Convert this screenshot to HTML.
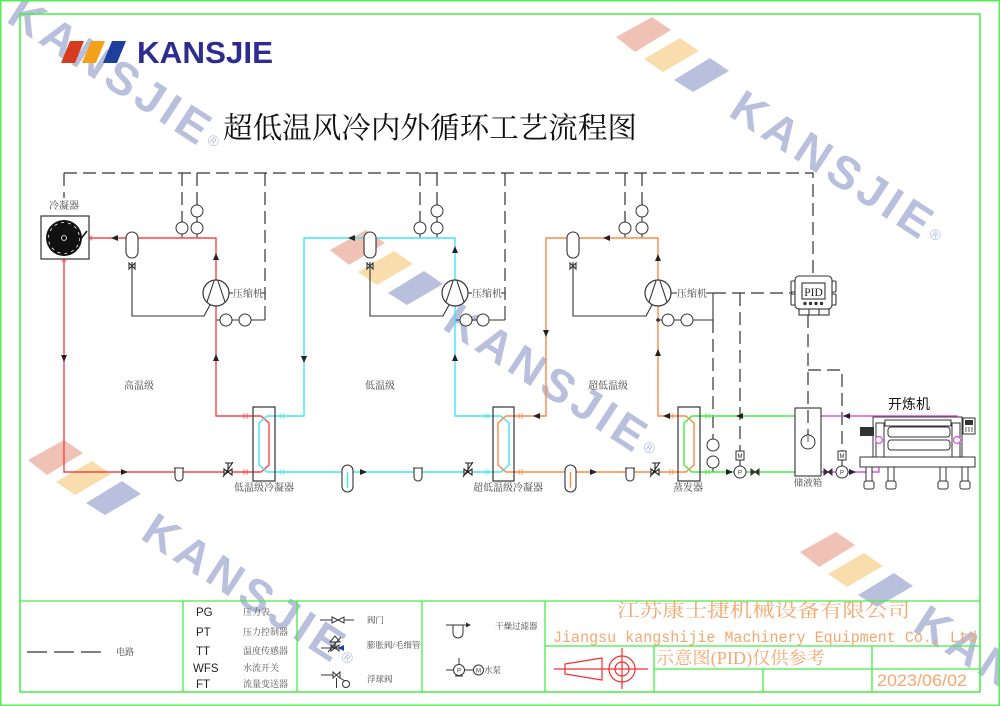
<!DOCTYPE html>
<html><head><meta charset="utf-8"><style>
html,body{margin:0;padding:0;background:#fff;width:1000px;height:706px;overflow:hidden}
#wrap{width:1000px;height:706px;overflow:hidden;position:relative}
svg{display:block;overflow:hidden}
text{font-family:"Liberation Serif","Noto Serif CJK SC",serif}
.s{font-family:"Liberation Sans","Noto Sans CJK SC",sans-serif}
</style></head><body><div id="wrap">
<svg width="1000" height="706" viewBox="0 0 1000 706" xmlns="http://www.w3.org/2000/svg">
<defs><clipPath id="pg"><rect x="0" y="0" width="1000" height="706"/></clipPath></defs>
<g clip-path="url(#pg)">
<rect width="1000" height="706" fill="#fff"/>

<!-- watermarks -->
<g transform="translate(0,0)">
<polygon points="616,37 652,17 671,30 635,52" fill="#f0c2b6"/>
<polygon points="644,59 680,38 699,51 663,72" fill="#f9ddac"/>
<polygon points="674,80 710,58 729,71 693,92" fill="#b8c0dd"/>
<text class="s" transform="translate(727,115) rotate(33)" font-weight="bold" font-size="46" letter-spacing="5" fill="#b8c0dd">KANSJIE<tspan font-size="15" font-weight="normal" dy="-8">®</tspan></text>
</g>
<g transform="translate(-286,213)">
<polygon points="616,37 652,17 671,30 635,52" fill="#f0c2b6"/>
<polygon points="644,59 680,38 699,51 663,72" fill="#f9ddac"/>
<polygon points="674,80 710,58 729,71 693,92" fill="#b8c0dd"/>
<text class="s" transform="translate(727,115) rotate(33)" font-weight="bold" font-size="46" letter-spacing="5" fill="#b8c0dd">KANSJIE<tspan font-size="15" font-weight="normal" dy="-8">®</tspan></text>
</g>
<g transform="translate(-588,423)">
<polygon points="616,37 652,17 671,30 635,52" fill="#f0c2b6"/>
<polygon points="644,59 680,38 699,51 663,72" fill="#f9ddac"/>
<polygon points="674,80 710,58 729,71 693,92" fill="#b8c0dd"/>
<text class="s" transform="translate(727,115) rotate(33)" font-weight="bold" font-size="46" letter-spacing="5" fill="#b8c0dd">KANSJIE<tspan font-size="15" font-weight="normal" dy="-8">®</tspan></text>
</g>
<g transform="translate(184,515)">
<polygon points="616,37 652,17 671,30 635,52" fill="#f0c2b6"/>
<polygon points="644,59 680,38 699,51 663,72" fill="#f9ddac"/>
<polygon points="674,80 710,58 729,71 693,92" fill="#b8c0dd"/>
<text class="s" transform="translate(727,115) rotate(33)" font-weight="bold" font-size="46" letter-spacing="5" fill="#b8c0dd">KANS</text>
</g>
<g transform="translate(-722,-94)">
<text class="s" transform="translate(727,115) rotate(33)" font-weight="bold" font-size="46" letter-spacing="5" fill="#b8c0dd">KANSJIE<tspan font-size="15" font-weight="normal" dy="-8">®</tspan></text>
</g>

<!-- borders -->
<rect x="0.75" y="0.75" width="998.5" height="704.5" fill="none" stroke="#55ee55" stroke-width="1.5"/>
<rect x="20" y="14" width="960" height="678" fill="none" stroke="#44ee44" stroke-width="1.5"/>

<!-- logo -->
<polygon points="70,41 84,41 75,63 61,63" fill="#d63c1c"/>
<polygon points="91,41 105,41 96,63 82,63" fill="#f5a21a"/>
<polygon points="112,41 126,41 117,63 103,63" fill="#1f3f9e"/>
<text class="s" x="137" y="63" font-size="31" font-weight="bold" fill="#2d2d8f" textLength="136" lengthAdjust="spacingAndGlyphs">KANSJIE</text>

<!-- title -->
<text x="223" y="138" font-size="29.6" fill="#111" textLength="414" lengthAdjust="spacingAndGlyphs">超低温风冷内外循环工艺流程图</text>

<!-- dashed control lines -->
<g fill="none" stroke="#333" stroke-width="1.2" stroke-dasharray="13 6">
<path d="M64,173 H813 V275"/>
<path d="M64,173 V198"/>
<path d="M182,173 V222"/><path d="M197,173 V205"/><path d="M265,173 V307"/>
<path d="M420,173 V222"/><path d="M437,173 V205"/><path d="M505,173 V307"/>
<path d="M625,173 V222"/><path d="M642,173 V205"/>
<path d="M713,293 H792"/>
<path d="M713,320 V439"/>
<path d="M740,293 V451"/>
<path d="M808,315 V435"/>
<path d="M808,370 H842 V451"/>
</g>

<!-- solid black lines -->
<g fill="none" stroke="#333" stroke-width="1.1">
<path d="M265,307 V320"/><path d="M505,307 V320"/><path d="M713,293 V320"/>
<path d="M182,234 V238"/><path d="M197,234 V238"/><path d="M197,217 V222"/>
<path d="M420,234 V238"/><path d="M437,234 V238"/><path d="M437,217 V222"/>
<path d="M625,234 V238"/><path d="M642,234 V238"/><path d="M642,217 V222"/>
<path d="M216,320 H265"/><path d="M455,320 H505"/><path d="M658,320 H713"/>
<path d="M132,262 V316 H204 L210,305"/>
<path d="M370,262 V316 H443 L449,305"/>
<path d="M573,262 V316 H646 L652,305"/>
<path d="M229,293 H233"/><path d="M261,293 H265"/>
<path d="M468,293 H472"/><path d="M501,293 H505"/>
<path d="M671,293 H677"/><path d="M706,293 H713"/>
<path d="M713,468 V472"/>
<path d="M740,460 V466"/><path d="M842,460 V466"/>
</g>

<!-- colored pipes -->
<g fill="none" stroke-width="1.4">
<path d="M89,238 H216 V416 H247" stroke="#ff4444"/>
<path d="M64,259 V472 H247" stroke="#ff4444"/>
<path d="M247,416 H261 L269,423 V465 L261,472 H247" stroke="#ff4444"/>
<path d="M282,416 H267 L259,423 V465 L267,472 H282" stroke="#44e4f4"/>
<path d="M282,416 H304 V238 H455 V416 H487" stroke="#44e4f4"/>
<path d="M282,472 H487" stroke="#44e4f4"/>
<path d="M487,416 H501 L509,423 V465 L501,472 H487" stroke="#44e4f4"/>
<path d="M520,416 H506 L498,423 V465 L506,472 H520" stroke="#ff8844"/>
<path d="M520,416 H546 V238 H658 V416 H672" stroke="#ff8844"/>
<path d="M520,472 H672" stroke="#ff8844"/>
<path d="M672,416 H686 L694,423 V465 L686,472 H672" stroke="#ff8844"/>
<path d="M706,416 H692 L684,423 V465 L692,472 H706" stroke="#44ee44"/>
<path d="M706,416 H795" stroke="#44ee44"/>
<path d="M706,472 H795" stroke="#44ee44"/>
<path d="M821,416 H957 V436" stroke="#e050e0"/>
<path d="M821,472 H879 V444" stroke="#e050e0"/>
</g>

<!-- flange ticks -->
<g stroke-width="1" fill="none">
<g stroke="#ff4444"><path d="M244,413.5 v5 M247,413.5 v5 M244,469.5 v5 M247,469.5 v5 M91,235.5 v5 M61.5,261 h5"/></g>
<g stroke="#44e4f4"><path d="M281,413.5 v5 M284,413.5 v5 M281,469.5 v5 M284,469.5 v5 M485,413.5 v5 M488,413.5 v5 M485,469.5 v5 M488,469.5 v5"/></g>
<g stroke="#ff8844"><path d="M519,413.5 v5 M522,413.5 v5 M519,469.5 v5 M522,469.5 v5 M670,413.5 v5 M673,413.5 v5 M670,469.5 v5 M673,469.5 v5"/></g>
<g stroke="#44ee44"><path d="M706,413.5 v5 M709,413.5 v5 M706,469.5 v5 M709,469.5 v5"/></g>
</g>

<!-- arrows -->
<g fill="#222">
<polygon points="111,238 118,235 118,241"/>
<polygon points="216,253 213,260 219,260"/>
<polygon points="216,354 213,361 219,361"/>
<polygon points="64,362 61,355 67,355"/>
<polygon points="128,472 121,469 121,475"/>
<polygon points="348,238 355,235 355,241"/>
<polygon points="455,246 452,253 458,253"/>
<polygon points="455,354 452,361 458,361"/>
<polygon points="304,363 301,356 307,356"/>
<polygon points="367,472 360,469 360,475"/>
<polygon points="603,238 610,235 610,241"/>
<polygon points="658,254 655,261 661,261"/>
<polygon points="658,349 655,356 661,356"/>
<polygon points="546,337 543,330 549,330"/>
<polygon points="533,416 540,413 540,419"/>
<polygon points="597,472 590,469 590,475"/>
<polygon points="663,416 670,413 670,419"/>
<polygon points="736,416 743,413 743,419"/>
<polygon points="733,472 726,469 726,475"/>
<polygon points="843,416 850,413 850,419"/>
<polygon points="856,472 849,469 849,475"/>
</g>

<!-- condenser -->
<rect x="41" y="216" width="48" height="43" fill="#fff" stroke="#333" stroke-width="1.2"/>
<circle cx="64" cy="238" r="18" fill="#111"/>
<circle cx="64" cy="238" r="15.5" fill="none" stroke="#fff" stroke-width="0.8" stroke-dasharray="3 4"/>
<circle cx="64" cy="238" r="2.5" fill="none" stroke="#fff" stroke-width="0.8"/>
<path d="M80,240 L87,231" stroke="#111" stroke-width="1.5"/>
<text x="64" y="209" font-size="10" fill="#444" text-anchor="middle">冷凝器</text>

<!-- receivers top -->
<g fill="#fff" stroke="#333" stroke-width="1.1">
<rect x="126" y="232" width="12" height="26" rx="6"/>
<rect x="364" y="232" width="12" height="26" rx="6"/>
<rect x="567" y="232" width="12" height="26" rx="6"/>
<path d="M129,263 L135,269 L135,263 L129,269 Z"/>
<path d="M367,263 L373,269 L373,263 L367,269 Z"/>
<path d="M570,263 L576,269 L576,263 L570,269 Z"/>
</g>

<!-- bottom receivers -->
<rect x="342" y="465" width="11" height="27" rx="5.5" fill="#fff" stroke="#333" stroke-width="1.1"/>
<path d="M347.5,472 V488" stroke="#44e4f4" stroke-width="1.4"/>
<rect x="565" y="465" width="11" height="27" rx="5.5" fill="#fff" stroke="#333" stroke-width="1.1"/>
<path d="M570.5,472 V488" stroke="#ff8844" stroke-width="1.4"/>

<!-- filters -->
<g fill="#fff" stroke="#333" stroke-width="1.1">
<path d="M174,468 H184 M175,468 V477 A4,4 0 0 0 183,477 V468"/>
<path d="M413,468 H423 M414,468 V477 A4,4 0 0 0 422,477 V468"/>
<path d="M625,468 H635 M626,468 V477 A4,4 0 0 0 634,477 V468"/>
</g>

<!-- expansion valves -->
<g fill="#fff" stroke="#222" stroke-width="1.1">
<path d="M224,469 L232,475 L232,469 L224,475 Z"/><path d="M228,472 V463 M225,463 H232 M223,477 L233,462" fill="none"/>
<path d="M464,469 L472,475 L472,469 L464,475 Z"/><path d="M468,472 V463 M465,463 H472 M463,477 L473,462" fill="none"/>
<path d="M651,469 L659,475 L659,469 L651,475 Z"/><path d="M655,472 V463 M652,463 H659 M650,477 L660,462" fill="none"/>
</g>

<!-- exchangers -->
<g fill="none" stroke="#333" stroke-width="1.2">
<rect x="253" y="407" width="22" height="74"/>
<rect x="493" y="407" width="21" height="74"/>
<rect x="678" y="407" width="22" height="74"/>
</g>
<g font-size="10" fill="#444" text-anchor="middle">
<text x="264" y="491">低温级冷凝器</text>
<text x="508" y="491">超低温级冷凝器</text>
<text x="688" y="491">蒸发器</text>
<text x="139" y="389">高温级</text>
<text x="380" y="389">低温级</text>
<text x="608" y="389">超低温级</text>
</g>

<!-- compressors -->
<g fill="#fff" stroke="#333" stroke-width="1.2">
<circle cx="216" cy="293" r="13"/>
<circle cx="455" cy="293" r="13"/>
<circle cx="658" cy="293" r="13"/>
</g>
<g fill="none" stroke="#333" stroke-width="1.1">
<path d="M207,302 L214,281 M218,281 L225,302"/>
<path d="M446,302 L453,281 M457,281 L464,302"/>
<path d="M649,302 L656,281 M660,281 L667,302"/>
</g>
<g font-size="10" fill="#444">
<text x="233" y="297">压缩机</text>
<text x="472" y="297">压缩机</text>
<text x="677" y="297">压缩机</text>
</g>

<!-- gauges -->
<g fill="#fff" stroke="#333" stroke-width="1">
<circle cx="182" cy="228" r="6"/><circle cx="197" cy="211" r="6"/><circle cx="197" cy="228" r="6"/>
<circle cx="226" cy="320" r="6"/><circle cx="245" cy="320" r="6"/>
<circle cx="420" cy="228" r="6"/><circle cx="437" cy="211" r="6"/><circle cx="437" cy="228" r="6"/>
<circle cx="466" cy="320" r="6"/><circle cx="483" cy="320" r="6"/>
<circle cx="625" cy="228" r="6"/><circle cx="642" cy="211" r="6"/><circle cx="642" cy="228" r="6"/>
<circle cx="668" cy="320" r="6"/><circle cx="687" cy="320" r="6"/>
<circle cx="713" cy="445" r="6"/><circle cx="713" cy="462" r="6"/>
</g>
<circle cx="658" cy="320" r="1.8" fill="#333"/>

<!-- pumps / motors -->
<g fill="#fff" stroke="#333" stroke-width="1">
<rect x="736" y="451" width="8" height="9"/>
<circle cx="740" cy="472" r="6"/>
<rect x="838" y="451" width="8" height="9"/>
<circle cx="842" cy="472" r="6"/>
<path d="M751,469 L759,475 L759,469 L751,475 Z" fill="#333"/>
<path d="M824,469 L832,475 L832,469 L824,475 Z" fill="#333"/>
</g>
<g font-size="6" fill="#333" text-anchor="middle" class="s">
<text x="740" y="458" class="s">M</text><text x="740" y="474.5" class="s">P</text>
<text x="842" y="458" class="s">M</text><text x="842" y="474.5" class="s">P</text>
</g>

<!-- PID -->
<g stroke="#333" stroke-width="1.1" fill="#fff">
<rect x="791" y="281" width="6" height="11" rx="1"/>
<rect x="791" y="294" width="6" height="11" rx="1"/>
<rect x="830" y="281" width="6" height="11" rx="1"/>
<rect x="830" y="294" width="6" height="11" rx="1"/>
<rect x="795" y="276" width="37" height="33" rx="4"/>
<rect x="802" y="283" width="23" height="16"/>
<rect x="799" y="309" width="30" height="6"/>
<path d="M809,309 V315 M819,309 V315" fill="none"/>
</g>
<text x="813.5" y="296" font-size="11.5" fill="#222" text-anchor="middle">PID</text>
<g fill="#333"><circle cx="805" cy="303.5" r="1.7"/><circle cx="810.5" cy="303.5" r="1.7"/><circle cx="816" cy="303.5" r="1.7"/><circle cx="821.5" cy="303.5" r="1.7"/></g>

<!-- tank -->
<rect x="795" y="408" width="26" height="68" fill="none" stroke="#333" stroke-width="1.1"/>
<circle cx="808" cy="442" r="7" fill="#fff" stroke="#333" stroke-width="1"/>
<path d="M808,436 V442" stroke="#333" stroke-width="0.8"/>
<text x="808" y="486" font-size="9.5" fill="#444" text-anchor="middle">储液箱</text>

<!-- mill -->
<text class="s" x="909" y="409" font-size="14" fill="#111" text-anchor="middle">开炼机</text>
<g stroke="#333" stroke-width="1" fill="#fff">
<rect x="866" y="467" width="6" height="14"/><rect x="888" y="467" width="6" height="14"/>
<rect x="940" y="467" width="6" height="14"/><rect x="962" y="467" width="6" height="14"/>
<rect x="864" y="481" width="10" height="8" rx="2"/><rect x="886" y="481" width="10" height="8" rx="2"/>
<rect x="938" y="481" width="10" height="8" rx="2"/><rect x="960" y="481" width="10" height="8" rx="2"/>
<rect x="860" y="457" width="115" height="10"/>
<rect x="873" y="417" width="89" height="40"/>
<rect x="885" y="420" width="66" height="6"/>
<rect x="888" y="427" width="62" height="10" rx="3"/>
<rect x="888" y="440" width="62" height="10" rx="3"/>
<rect x="876" y="423" width="8" height="34"/>
<rect x="952" y="423" width="8" height="34"/>
<rect x="963" y="418" width="12" height="16"/>
</g>
<rect x="860" y="427" width="14" height="9" fill="#333"/>
<rect x="965" y="420" width="8" height="5" fill="#333"/>
<path d="M966,427 V432 M969,427 V432 M972,427 V432" stroke="#333" stroke-width="0.8"/>
<circle cx="879" cy="440" r="3.5" fill="#fff" stroke="#e050e0" stroke-width="1.2"/>
<circle cx="957" cy="440" r="3.5" fill="#fff" stroke="#e050e0" stroke-width="1.2"/>

<!-- legend table -->
<g fill="none" stroke="#44ee44" stroke-width="1.3">
<path d="M20,601 H980"/>
<path d="M183,601 V692 M297,601 V692 M422,601 V692 M545,601 V692"/>
<path d="M545,646 H980 M654,669 H980 M654,646 V692 M872,646 V692 M763,669 V692"/>
</g>

<!-- col1 -->
<path d="M27,652 H102" stroke="#333" stroke-width="1.3" stroke-dasharray="20 7"/>
<text x="116" y="655" font-size="9" fill="#444">电路</text>

<!-- col2 -->
<g class="s" font-size="11.5" fill="#222">
<text class="s" x="196" y="616">PG</text>
<text class="s" x="196" y="636">PT</text>
<text class="s" x="196" y="655">TT</text>
<text class="s" x="193" y="672">WFS</text>
<text class="s" x="196" y="688">FT</text>
</g>
<g font-size="9" fill="#555">
<text x="243" y="615">压力表</text>
<text x="243" y="635">压力控制器</text>
<text x="243" y="654">温度传感器</text>
<text x="243" y="671">水流开关</text>
<text x="243" y="687">流量变送器</text>
</g>

<!-- col3 -->
<g stroke="#333" stroke-width="1" fill="none">
<path d="M320,620 H332 M344,620 H354"/>
<path d="M332,617 L344,623 V617 L332,623 Z"/>
<path d="M321,648 H344"/>
<path d="M331,645 L339,651 V645 L331,651 Z"/>
<path d="M335,648 V642 M330,642 H340 L335,636 Z"/>
<path d="M328,652 L341,637"/>
<path d="M321,675 H333 M333,672 L340,678 V672 L333,678 Z M336.5,678 V688 M340,678 L345,681"/>
<circle cx="346" cy="684" r="3.5"/>
</g>
<polygon points="338,648 344,645 344,651" fill="#1f3f9e"/>
<g font-size="8.5" fill="#444">
<text x="367" y="623">阀门</text>
<text x="367" y="648">膨胀阀/毛细管</text>
<text x="367" y="682">浮球阀</text>
</g>

<!-- col4 -->
<g stroke="#333" stroke-width="1" fill="none">
<path d="M446,625 H468 M453,625 V633 A5,5 0 0 0 463,633 V625"/>
<path d="M446,670 H453 M464,670 H473 M459,658 V664"/>
<circle cx="459" cy="670" r="5.5"/>
<circle cx="478.5" cy="670" r="5"/>
<path d="M455,676 H463"/>
</g>
<polygon points="471,625 466,622.5 466,627.5" fill="#333"/>
<text x="459" y="672.5" font-size="6" fill="#333" text-anchor="middle" class="s">P</text>
<text x="478.5" y="672.5" font-size="6" fill="#333" text-anchor="middle" class="s">M</text>
<text x="495" y="629" font-size="8.5" fill="#444">干燥过滤器</text>
<text x="484" y="673" font-size="8.5" fill="#444">水泵</text>

<!-- company block -->
<text x="617" y="617" font-size="18.5" fill="#f3a870" textLength="293" lengthAdjust="spacingAndGlyphs">江苏康士捷机械设备有限公司</text>
<text x="553" y="642" font-size="15.5" fill="#f3a870" style="font-family:'Liberation Mono',monospace" textLength="424" lengthAdjust="spacingAndGlyphs">Jiangsu kangshijie Machinery Equipment Co., Ltd</text>
<text x="656" y="664" font-size="17.5" fill="#f3a870" textLength="169" lengthAdjust="spacingAndGlyphs">示意图(PID)仅供参考</text>
<text class="s" x="877" y="686" font-size="16.5" fill="#f3a870" textLength="90" lengthAdjust="spacingAndGlyphs">2023/06/02</text>

<!-- projection symbol -->
<g stroke="#f03030" stroke-width="1.2" fill="none">
<path d="M554,669 H648"/>
<polygon points="565,664 602,658 602,680 565,674"/>
<circle cx="622" cy="669" r="13"/>
<circle cx="622" cy="669" r="7"/>
<path d="M622,648 V689"/>
</g>
</g>
</svg>
</div>
</body></html>
